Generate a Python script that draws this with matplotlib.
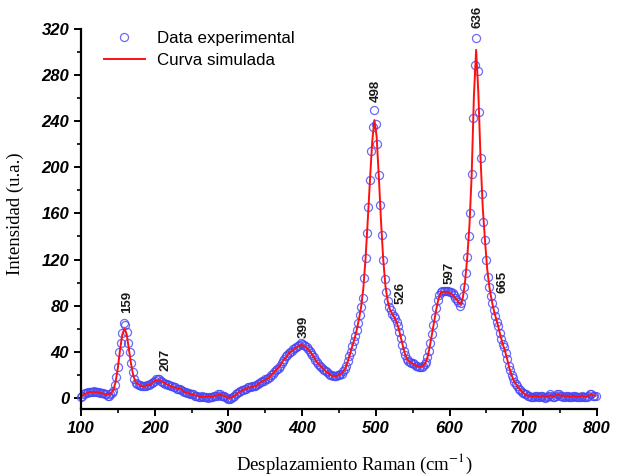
import numpy as np
import matplotlib
matplotlib.use('Agg')
import matplotlib.pyplot as plt
from matplotlib.ticker import MultipleLocator

# experimental spectrum, sampled every 2 cm-1 starting at 100
intensity_exp = [
    1, 2, 3, 4, 4, 5, 5, 5, 5, 6,
    5, 5, 5, 4, 4, 4, 3, 3, 2, 2,
    3, 4, 6, 11, 18, 27, 40, 48, 56, 65,
    63, 57, 48, 40, 30, 22, 16, 13, 12, 11,
    11, 10, 10, 10, 10, 11, 11, 12, 13, 14,
    15, 16, 16, 16, 15, 14, 13, 12, 12, 11,
    11, 10, 10, 9, 9, 8, 8, 8, 7, 6,
    5, 5, 4, 4, 3, 3, 3, 2, 2, 2,
    1, 1, 2, 1, 1, 1, 0, 1, 1, 1,
    2, 2, 2, 3, 3, 2, 2, 2, 1, 0,
    -1, -1, 0, 1, 2, 3, 4, 5, 6, 7,
    7, 8, 8, 9, 9, 9, 10, 10, 10, 11,
    12, 13, 14, 15, 15, 16, 16, 17, 18, 20,
    21, 22, 24, 25, 26, 28, 30, 32, 34, 36,
    37, 39, 40, 41, 42, 43, 44, 45, 46, 48,
    47, 46, 45, 44, 42, 41, 39, 37, 35, 33,
    31, 29, 28, 27, 25, 24, 23, 22, 21, 20,
    20, 19, 19, 19, 20, 20, 21, 21, 23, 25,
    28, 32, 36, 40, 45, 49, 54, 59, 65, 72,
    79, 87, 104, 121, 143, 166, 189, 214, 235, 250,
    238, 220, 193, 167, 141, 120, 103, 92, 84, 79,
    76, 73, 71, 69, 66, 62, 57, 52, 46, 41,
    37, 34, 32, 31, 30, 30, 29, 28, 28, 27,
    27, 27, 28, 29, 31, 35, 41, 48, 55, 63,
    70, 78, 85, 89, 92, 93, 93, 93, 93, 93,
    92, 92, 91, 89, 87, 85, 83, 80, 82, 88,
    96, 108, 122, 140, 160, 194, 243, 289, 312, 284,
    248, 208, 177, 153, 137, 120, 105, 96, 88, 82,
    76, 71, 66, 62, 56, 51, 47, 44, 39, 34,
    28, 24, 20, 17, 14, 12, 10, 8, 7, 5,
    4, 3, 3, 2, 2, 1, 1, 1, 2, 2,
    1, 1, 2, 2, 1, 0, 1, 2, 3, 2,
    1, 1, 2, 3, 3, 2, 2, 1, 1, 2,
    2, 1, 1, 1, 2, 2, 1, 1, 1, 1,
    2, 1, 1, 1, 2, 3, 3, 2, 2, 2,
]
shift_exp = 100 + 2 * np.arange(len(intensity_exp))

# simulated (fitted) curve, every 3 cm-1 starting at 102
intensity_sim = [
    2, 3.5, 4, 5, 5, 5, 5, 5, 4, 4,
    3, 3, 3, 4, 7, 14, 26, 42, 55, 60,
    55, 42, 29, 19, 14, 12, 11, 10, 10, 11,
    11, 12, 14, 15, 15, 15, 14, 13, 12, 11,
    10, 9, 9, 8, 8, 7, 5, 5, 4, 3,
    3, 2, 2, 1, 1, 1, 1, 1, 1, 1,
    2, 2, 3, 2, 2, 1, 0, 0, 1, 2,
    4, 5, 6, 7, 8, 9, 9, 10, 10, 11,
    13, 14, 15, 16, 17, 19, 21, 23, 25, 27,
    30, 33, 35, 38, 40, 41, 43, 44, 45, 46,
    45, 44, 42, 40, 37, 34, 31, 29, 27, 25,
    23, 22, 20, 19, 19, 19, 20, 21, 23, 26,
    32, 38, 45, 51, 59, 68, 79, 95, 121, 154,
    189, 222, 241, 227, 192, 153, 120, 97, 84, 77,
    73, 70, 66, 60, 52, 44, 37, 33, 31, 30,
    29, 28, 27, 27, 28, 30, 35, 44, 55, 66,
    77, 86, 91, 92, 92, 92, 91, 90, 88, 86,
    83, 81, 87, 101, 122, 150, 194, 262, 302, 265,
    208, 165, 137, 112, 96, 85, 76, 69, 62, 54,
    47, 41, 34, 26, 20, 15, 12, 9, 7, 5,
    3, 2, 2, 1, 1, 2, 1, 1, 2, 1,
    1, 2, 2, 1, 2, 3, 2, 2, 1, 2,
    1, 1, 2, 1, 1, 1, 2, 1, 1, 2,
    3, 2, 2,
]
shift_sim = 102 + 3 * np.arange(len(intensity_sim))

# peak labels: text, where the label sits and height of its base
peak_text = ['159', '207', '399', '498', '526', '597', '636', '665']
peak_label_x = [162, 214, 402, 500, 533, 600, 638, 672]
peak_label_y = [74, 23, 52, 257, 81, 99, 321, 91]

plt.rcParams['mathtext.fontset'] = 'stix'

fig = plt.figure(figsize=(6.17, 4.76), dpi=100)
ax = fig.add_axes([0.1313, 0.14, 0.8363, 0.799])

ax.plot(shift_exp, intensity_exp, 'o', mfc='none', mec='#4646f5', mew=0.9,
        ms=5.8, alpha=0.8, label='Data experimental', clip_on=False)
ax.plot(shift_sim, intensity_sim, '-', color='#ff1010', lw=1.4,
        label='Curva simulada')

for t, px, py in zip(peak_text, peak_label_x, peak_label_y):
    ax.text(px, py, t, rotation=90, ha='center', va='bottom',
            fontsize=9.5, fontweight='bold', family='Liberation Sans',
            color='#1a1a1a')

ax.set_xlim(100, 800)
ax.set_ylim(-10, 320)
ax.xaxis.set_major_locator(MultipleLocator(100))
ax.xaxis.set_minor_locator(MultipleLocator(50))
ax.yaxis.set_minor_locator(MultipleLocator(20))
ax.set_yticks(range(0, 321, 40))

for s in ['top', 'right']:
    ax.spines[s].set_visible(False)
for s in ['left', 'bottom']:
    ax.spines[s].set_linewidth(1.6)

ax.tick_params(which='major', direction='out', length=5, width=1.4)
ax.tick_params(which='minor', direction='out', length=3, width=1.2)
for lab in ax.get_xticklabels() + ax.get_yticklabels():
    lab.set_family('Liberation Sans')
    lab.set_fontweight('bold')
    lab.set_fontstyle('italic')
    lab.set_fontsize(12)

ax.set_xlabel('Desplazamiento Raman (cm$^{-1}$)', family='Liberation Serif',
              fontsize=13.5)
ax.xaxis.set_label_coords(0.53, -0.113)
ax.set_ylabel('Intensidad (u.a.)', family='Liberation Serif', fontsize=13.5)
ax.yaxis.set_label_coords(-0.11, 0.515)

ax.legend(loc='upper left', bbox_to_anchor=(0.015, 1.035), frameon=False,
          prop={'family': 'Liberation Sans', 'size': 12.2},
          handlelength=2.4, handletextpad=0.7, labelspacing=0.42)

fig.savefig('out.png', dpi=100)
